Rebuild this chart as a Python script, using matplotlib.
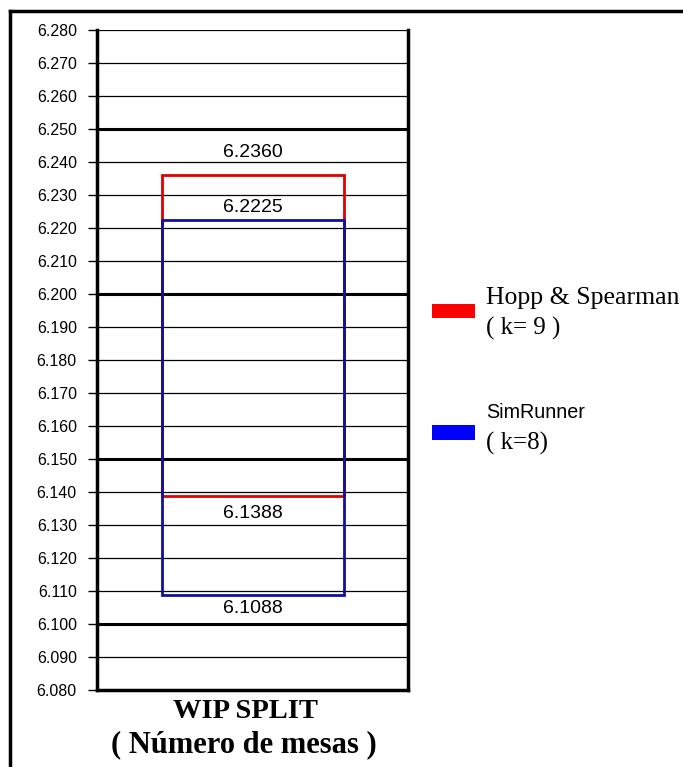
import numpy as np
import matplotlib
matplotlib.use("Agg")
import matplotlib.pyplot as plt
from matplotlib.patches import Rectangle
from matplotlib.lines import Line2D

# ---- data ----
series = ["Hopp & Spearman", "SimRunner"]
k_labels = ["( k= 9 )", "( k=8)"]
upper = [6.2360, 6.2225]
lower = [6.1388, 6.1088]
box_colors = ["#e00000", "#10109a"]
legend_colors = ["#ff0000", "#0000ff"]
yticks = np.round(np.arange(6.080, 6.2801, 0.010), 3)
major_lines = [6.100, 6.150, 6.200, 6.250]
xlabel_lines = ["WIP SPLIT", "( Número de mesas )"]

W, H = 683, 767
fig = plt.figure(figsize=(W / 100, H / 100), dpi=100)
fig.patch.set_facecolor("white")


def fx(px):
    return px / W


def fy(py):
    return 1 - py / H


# outer frame (top and left visible, runs off the picture)
fig.add_artist(Line2D([fx(10), 1.0], [fy(11), fy(11)], color="black", lw=2.5))
fig.add_artist(Line2D([fx(10), fx(10)], [fy(11), 0.0], color="black", lw=2.5))

ax = fig.add_axes([fx(97), fy(690), fx(408) - fx(97), fy(30) - fy(690)])
ax.set_xlim(0, 1)
ax.set_ylim(6.080, 6.280)

# horizontal grid
for v in yticks:
    if v in major_lines:
        ax.axhline(v, color="black", lw=2.2, zorder=1)
    else:
        ax.axhline(v, color="black", lw=0.9, zorder=1)

for s in ["left", "right", "bottom"]:
    ax.spines[s].set_linewidth(2.5)
ax.spines["top"].set_visible(False)

ax.set_yticks(yticks)
ax.set_yticklabels([f"{v:.3f}" for v in yticks], fontsize=11.5, family="Liberation Sans")
ax.tick_params(axis="y", direction="out", length=6.5, width=1, pad=8)
ax.set_xticks([])

# boxes
x0, x1 = 0.209, 0.794
for lo, hi, c, z in zip(lower, upper, box_colors, [3, 4]):
    ax.add_patch(Rectangle((x0, lo), x1 - x0, hi - lo, fill=False,
                           edgecolor=c, lw=2.0, zorder=z))

# value labels
label_offsets_up = [16.5, 9.0]
label_offsets_dn = [-12.5, -10.0]
xc = (x0 + x1) / 2
for hi, lo, ou, od in zip(upper, lower, label_offsets_up, label_offsets_dn):
    ax.annotate(f"{hi:.4f}", (xc, hi), xytext=(0, ou), textcoords="offset points",
                ha="center", va="center", fontsize=14, family="Liberation Sans", zorder=5)
    ax.annotate(f"{lo:.4f}", (xc, lo), xytext=(0, od), textcoords="offset points",
                ha="center", va="center", fontsize=14, family="Liberation Sans", zorder=5)

# x label (two lines, bold serif)
fig.text(fx(245), fy(711), xlabel_lines[0], ha="center", va="center",
         fontsize=20.5, fontweight="bold", family="Liberation Serif")
fig.text(fx(244), fy(745), xlabel_lines[1], ha="center", va="center",
         fontsize=22, fontweight="bold", family="Liberation Serif")

# legend drawn by hand
patch_y = [(304, 318), (425, 440)]
name_y = [298, 412]
k_y = [328, 443]
name_font = [dict(family="Liberation Serif", fontsize=18.5),
             dict(family="Liberation Sans", fontsize=14.2)]
for i in range(len(series)):
    ytop, ybot = patch_y[i]
    fig.add_artist(Rectangle((fx(432), fy(ybot)), fx(475) - fx(432), fy(ytop) - fy(ybot),
                             transform=fig.transFigure, facecolor=legend_colors[i],
                             edgecolor="none"))
    fig.text(fx(486), fy(name_y[i]), series[i], ha="left", va="center", **name_font[i])
    fig.text(fx(486), fy(k_y[i]), k_labels[i], ha="left", va="center",
             family="Liberation Serif", fontsize=18)

fig.savefig("out.png", dpi=100)
